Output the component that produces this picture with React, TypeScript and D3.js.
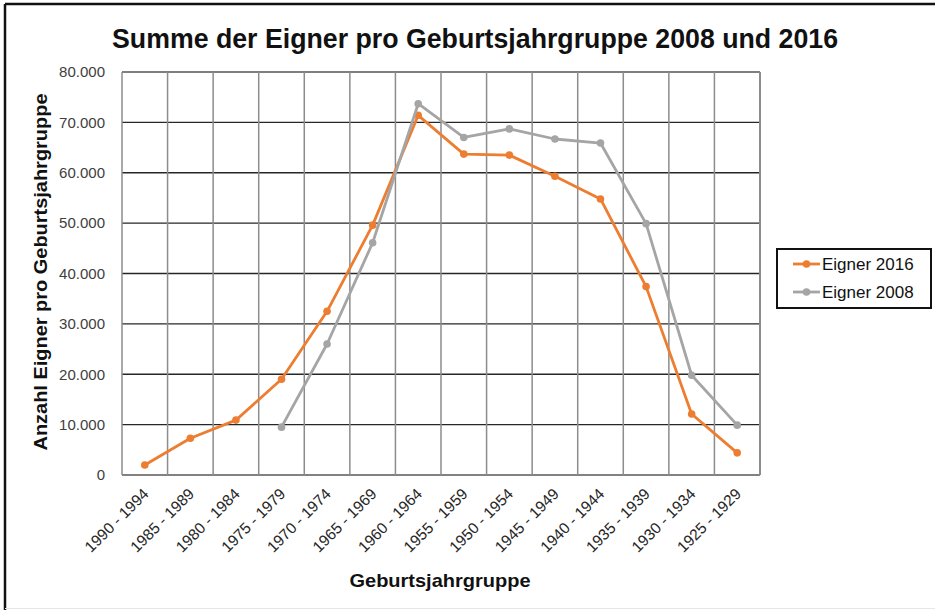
import * as d3 from "d3";

const groups = [
  "1990 - 1994", "1985 - 1989", "1980 - 1984", "1975 - 1979", "1970 - 1974",
  "1965 - 1969", "1960 - 1964", "1955 - 1959", "1950 - 1954", "1945 - 1949",
  "1940 - 1944", "1935 - 1939", "1930 - 1934", "1925 - 1929",
];

const eigner2016 = [2000, 7300, 10900, 19000, 32500, 49600, 71400, 63700, 63500, 59300, 54800, 37400, 12100, 4400];
const eigner2008 = [null, null, null, 9500, 26000, 46100, 73700, 67000, 68700, 66700, 65900, 49900, 19800, 9900];

const yTicks = [0, 10000, 20000, 30000, 40000, 50000, 60000, 70000, 80000];

const seriesList = [
  { name: "Eigner 2016", values: eigner2016, color: "#ED7D31" },
  { name: "Eigner 2008", values: eigner2008, color: "#A5A5A5" },
];

const W = 935;
const H = 610;
const plot = { left: 122, right: 760, top: 72, bottom: 475 };
const FONT = "'Liberation Sans', Arial, sans-serif";

const fmt = (v: number) => (v === 0 ? "0" : d3.format(",")(v).replace(/,/g, "."));

export default function App() {
  const x = d3.scaleBand<string>().domain(groups).range([plot.left, plot.right]);
  const cx = (g: string) => (x(g) ?? 0) + x.bandwidth() / 2;
  const y = d3.scaleLinear().domain([0, 80000]).range([plot.bottom, plot.top]);

  const line = d3
    .line<number | null>()
    .defined((d) => d != null)
    .x((_, i) => cx(groups[i]))
    .y((d) => y(d as number));

  return (
    <svg
      width={W}
      height={H}
      viewBox={`0 0 ${W} ${H}`}
      style={{ position: "absolute", left: 0, top: 0, background: "#fff" }}
      fontFamily={FONT}
    >
      <rect x={0} y={0} width={W} height={H} fill="#fff" />
      {/* outer frame */}
      <line x1={5} x2={W} y1={4} y2={4} stroke="#111" strokeWidth={2.5} />
      <line x1={5} x2={5} y1={4} y2={H} stroke="#111" strokeWidth={2.5} />
      <line x1={5} x2={W} y1={608.5} y2={608.5} stroke="#e6e6e6" strokeWidth={1} />

      <text
        x={475}
        y={48}
        textAnchor="middle"
        fontSize={27}
        fontWeight="bold"
        fill="#111"
        textLength={726}
        lengthAdjust="spacingAndGlyphs"
      >
        Summe der Eigner pro Geburtsjahrgruppe 2008 und 2016
      </text>

      {/* horizontal grid */}
      {yTicks.map((t) => (
        <line
          key={t}
          x1={plot.left}
          x2={plot.right}
          y1={y(t)}
          y2={y(t)}
          stroke={t === 80000 ? "#7f7f7f" : t === 0 ? "#595959" : "#262626"}
          strokeWidth={t === 80000 ? 2 : 1.3}
        />
      ))}
      {/* vertical grid */}
      {groups.map((g) => (
        <line
          key={g}
          x1={x(g)}
          x2={x(g)}
          y1={plot.top}
          y2={plot.bottom}
          stroke="#8c8c8c"
          strokeWidth={1.5}
        />
      ))}
      <line x1={plot.right} x2={plot.right} y1={plot.top} y2={plot.bottom} stroke="#8c8c8c" strokeWidth={2} />

      {/* y tick labels */}
      {yTicks.map((t) => (
        <text key={t} x={105} y={y(t)} dy="0.35em" textAnchor="end" fontSize={15} fill="#404040">
          {fmt(t)}
        </text>
      ))}

      {/* x tick labels */}
      {groups.map((g) => (
        <text
          key={g}
          transform={`translate(${cx(g) + 1},${plot.bottom + 16}) rotate(-45)`}
          textAnchor="end"
          dy="0.35em"
          fontSize={15.5}
          fill="#262626"
        >
          {g}
        </text>
      ))}

      {/* series */}
      {seriesList.map((s) => (
        <g key={s.name}>
          <path d={line(s.values) ?? ""} fill="none" stroke={s.color} strokeWidth={2.8} strokeLinejoin="round" />
          {s.values.map((v, i) =>
            v == null ? null : <circle key={i} cx={cx(groups[i])} cy={y(v)} r={3.8} fill={s.color} />
          )}
        </g>
      ))}

      {/* axis titles */}
      <text
        transform={`translate(47,272) rotate(-90)`}
        textAnchor="middle"
        fontSize={19}
        fontWeight="bold"
        fill="#111"
        textLength={357}
        lengthAdjust="spacingAndGlyphs"
      >
        Anzahl Eigner pro Geburtsjahrgruppe
      </text>
      <text
        x={440}
        y={587}
        textAnchor="middle"
        fontSize={19}
        fontWeight="bold"
        fill="#111"
        textLength={181}
        lengthAdjust="spacingAndGlyphs"
      >
        Geburtsjahrgruppe
      </text>

      {/* legend */}
      <rect x={777} y={249} width={154} height={59} fill="#fff" stroke="#111" strokeWidth={2} />
      {seriesList.map((s, i) => {
        const ly = 264 + i * 28;
        return (
          <g key={s.name}>
            <line x1={793} x2={820} y1={ly} y2={ly} stroke={s.color} strokeWidth={2.8} />
            <circle cx={806.5} cy={ly} r={3.8} fill={s.color} />
            <text x={822} y={ly} dy="0.35em" fontSize={17} fill="#111">
              {s.name}
            </text>
          </g>
        );
      })}
    </svg>
  );
}
